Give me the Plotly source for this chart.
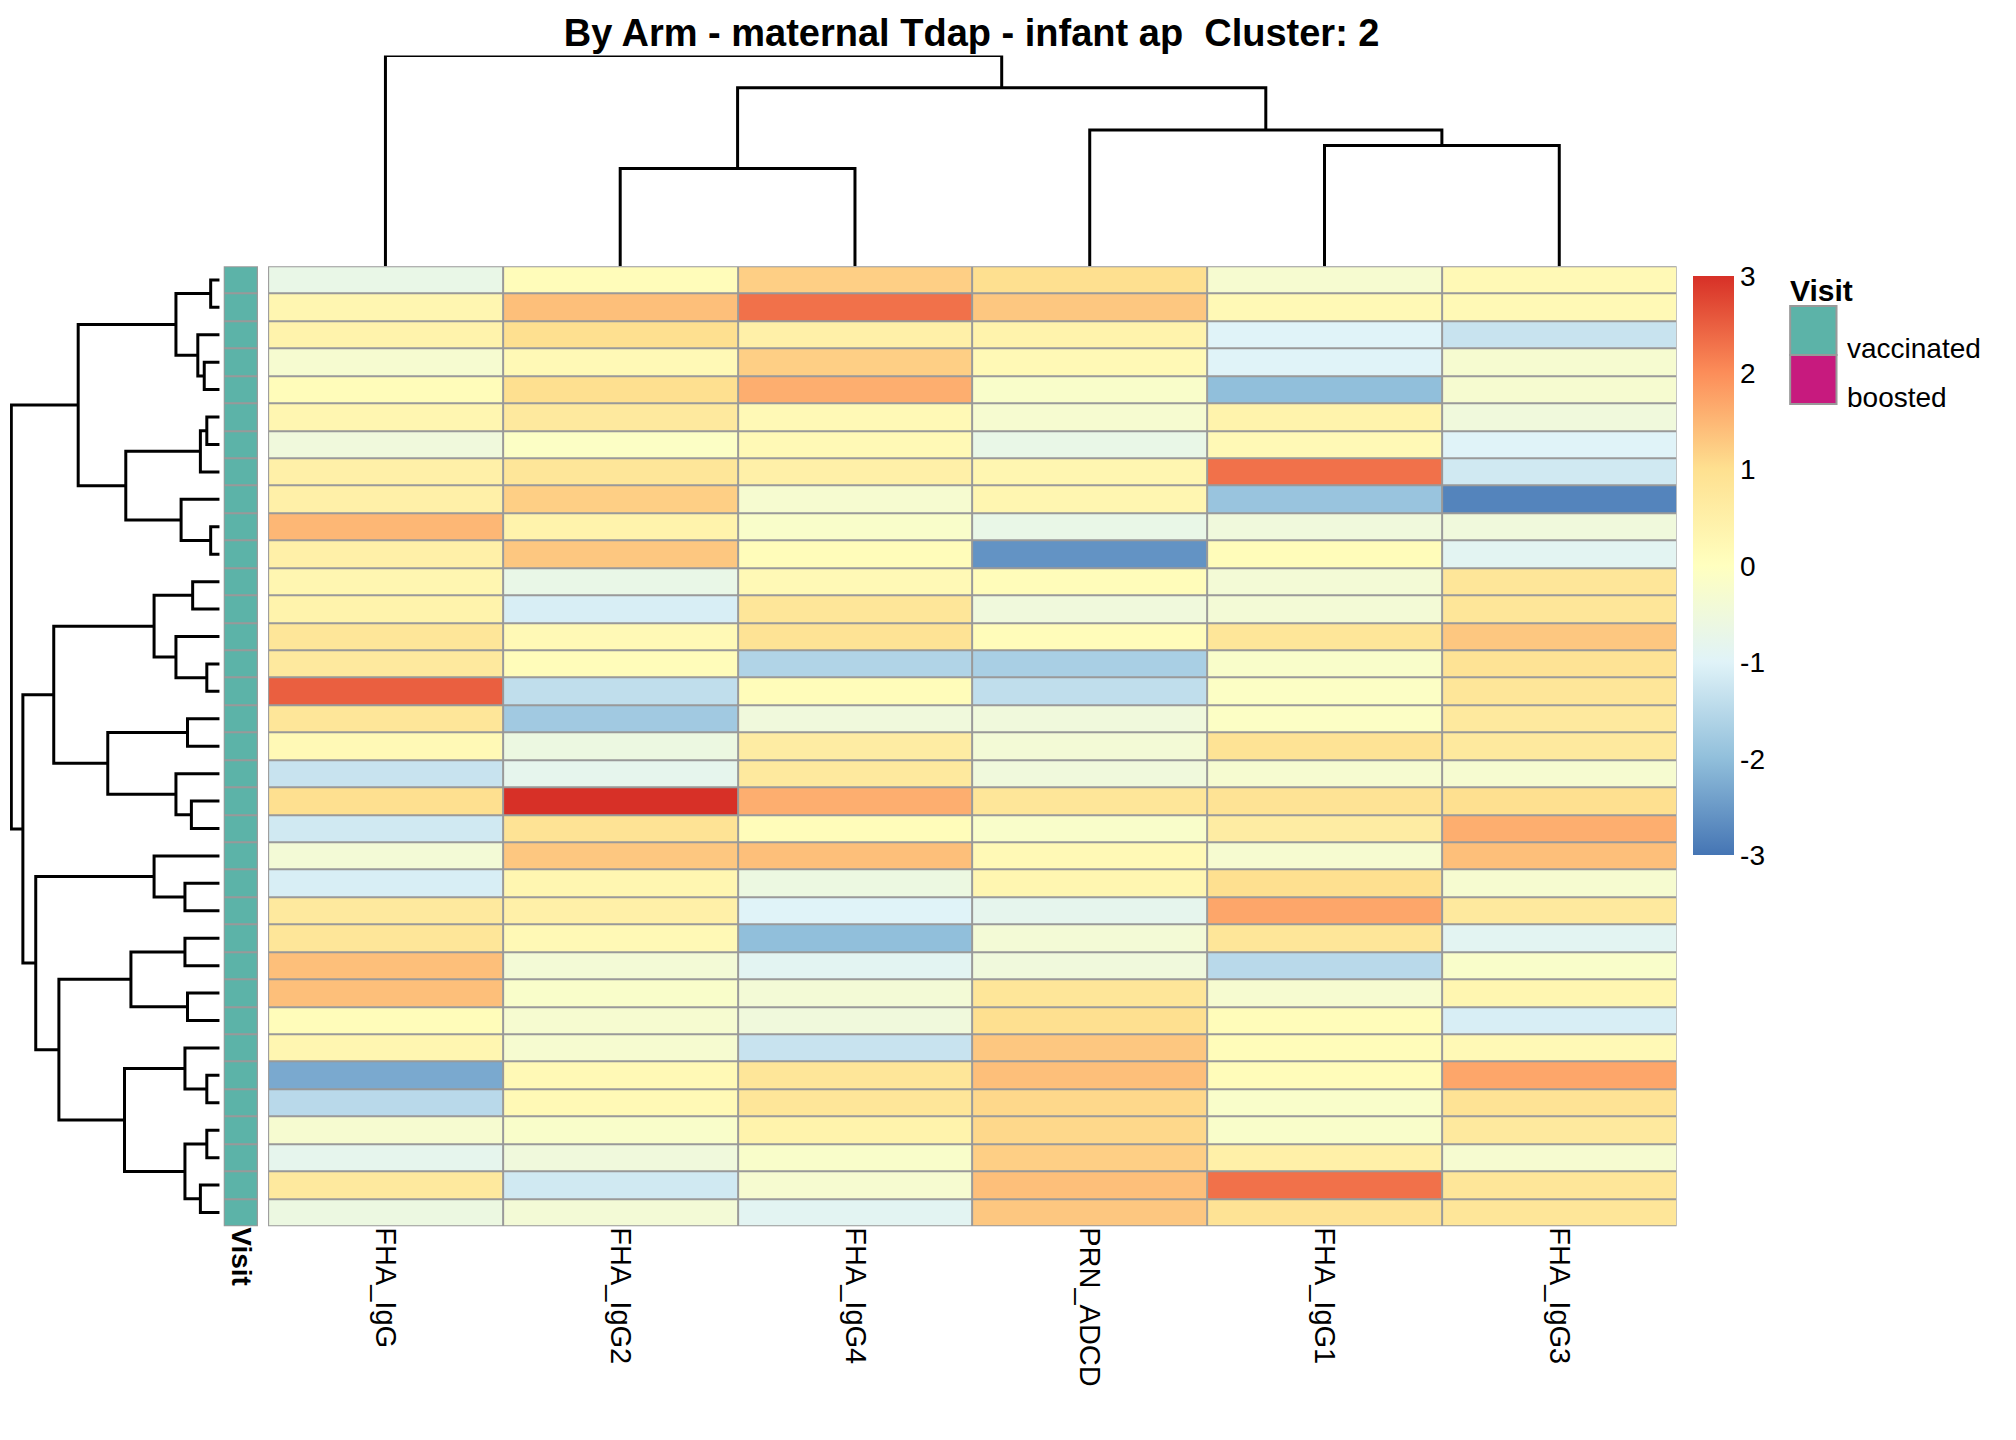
import plotly.graph_objects as go

columns = ["FHA_IgG", "FHA_IgG2", "FHA_IgG4", "PRN_ADCD", "FHA_IgG1", "FHA_IgG3"]
values = [
    [-0.7, 0.1, 1.2, 1.0, -0.3, 0.2],
    [0.3, 1.4, 2.3, 1.3, 0.2, 0.2],
    [0.4, 1.0, 0.5, 0.4, -1.0, -1.3],
    [-0.3, 0.2, 1.2, 0.2, -1.0, -0.3],
    [0.1, 1.0, 1.6, -0.2, -2.0, -0.3],
    [0.3, 0.7, 0.2, -0.3, 0.4, -0.5],
    [-0.5, -0.1, 0.2, -0.7, 0.2, -1.0],
    [0.5, 0.8, 0.5, 0.3, 2.3, -1.2],
    [0.5, 1.2, -0.3, 0.3, -1.9, -2.8],
    [1.5, 0.4, -0.2, -0.7, -0.5, -0.5],
    [0.5, 1.3, 0.1, -2.6, 0.1, -0.9],
    [0.3, -0.7, 0.2, 0.1, -0.4, 0.8],
    [0.4, -1.1, 0.8, -0.5, -0.4, 0.8],
    [0.8, 0.2, 0.9, 0.1, 0.8, 1.3],
    [0.7, 0.1, -1.6, -1.7, -0.2, 0.9],
    [2.5, -1.4, 0.1, -1.4, -0.1, 0.8],
    [0.8, -1.8, -0.5, -0.5, -0.1, 0.7],
    [0.2, -0.6, 0.6, -0.4, 0.9, 0.7],
    [-1.3, -0.8, 0.7, -0.5, -0.3, -0.3],
    [1.0, 3.0, 1.6, 0.8, 0.9, 1.0],
    [-1.2, 0.9, 0.1, -0.2, 0.6, 1.6],
    [-0.4, 1.3, 1.4, 0.2, -0.3, 1.4],
    [-1.1, 0.3, -0.6, 0.3, 1.0, -0.3],
    [0.7, 0.5, -1.0, -0.8, 1.7, 0.7],
    [0.8, 0.2, -2.0, -0.4, 0.8, -0.9],
    [1.4, -0.4, -0.9, -0.5, -1.5, -0.2],
    [1.4, -0.2, -0.4, 0.8, -0.3, 0.3],
    [0.1, -0.3, -0.5, 1.0, 0.1, -1.1],
    [0.3, -0.3, -1.3, 1.3, 0.1, 0.2],
    [-2.3, 0.2, 0.8, 1.4, 0.1, 1.7],
    [-1.5, 0.2, 0.8, 1.1, -0.2, 0.9],
    [-0.3, -0.2, 0.4, 1.1, -0.2, 0.7],
    [-0.8, -0.5, -0.2, 1.2, 0.5, -0.3],
    [0.7, -1.2, -0.3, 1.4, 2.3, 0.8],
    [-0.6, -0.4, -0.9, 1.3, 0.9, 0.8],
]
n_rows = len(values)
visit = ["vaccinated"] * n_rows
colorbar_ticks = [3, 2, 1, 0, -1, -2, -3]
colorbar_text = ["3", "2", "1", "0", "-1", "-2", "-3"]

# trees: (height, left, right); leaves are indices
row_tree = (162,
    (110,
        (34, (7, 0, 1), (17, 2, (12, 3, 4))),
        (73, (15, (10, 5, 6), 7), (30, 8, (7, 9, 10)))),
    (153,
        (129,
            (51, (21, 11, 12), (34, 13, (10, 14, 15))),
            (87, (25, 16, 17), (34, 18, (22, 19, 20)))),
        (143,
            (51, 21, (27, 22, 23)),
            (125,
                (69, (27, 24, 25), (25, 26, 27)),
                (74, (27, 28, (10, 29, 30)), (27, (10, 31, 32), (15, 33, 34)))))))
col_tree = (164, 0, (139, (76, 1, 2), (106, 3, (94, 4, 5))))

def dendro(tree):
    xs, ys = [], []
    def rec(node):
        if isinstance(node, int):
            return node, 0
        h, l, r = node
        pl, hl = rec(l)
        pr, hr = rec(r)
        xs.extend([pl, pl, pr, pr, None])
        ys.extend([hl, h, h, hr, None])
        return (pl + pr) / 2, h
    rec(tree)
    return xs, ys

colorscale = [[0, "#4575B4"], [1/6, "#91BFDB"], [2/6, "#E0F3F8"], [3/6, "#FFFFBF"],
              [4/6, "#FEE090"], [5/6, "#FC8D59"], [1, "#D73027"]]
visit_colors = {"vaccinated": "#5CB3A8", "boosted": "#C71A7E"}

HX0, HX1 = 0.129, 0.8277
HY0, HY1 = 0.154, 0.8207
AX0, AX1 = 0.107, 0.124
fig = go.Figure()

fig.add_trace(go.Heatmap(z=values, x=list(range(len(columns))), y=list(range(n_rows)),
    colorscale=colorscale, zmin=-3, zmax=3, xgap=2, ygap=2, xaxis="x", yaxis="y",
    hoverinfo="z",
    colorbar=dict(x=0.831, xanchor="left", y=HY1, yanchor="top", len=0.416, thickness=41,
                  outlinewidth=0, tickvals=colorbar_ticks, ticktext=colorbar_text, ticks="",
                  ticklen=8, tickfont=dict(size=28, family="Arial, Liberation Sans", color="black"))))

vz = [[0 if v == "vaccinated" else 1] for v in visit]
fig.add_trace(go.Heatmap(z=vz, x=[0], y=list(range(n_rows)), zmin=0, zmax=1,
    colorscale=[[0, visit_colors["vaccinated"]], [1, visit_colors["boosted"]]],
    showscale=False, xgap=2, ygap=2, xaxis="x2", yaxis="y"))

rx, ry = dendro(row_tree)
fig.add_trace(go.Scatter(x=ry, y=rx, mode="lines", line=dict(color="black", width=3),
                         xaxis="x3", yaxis="y", hoverinfo="skip", showlegend=False))
cx, cy = dendro(col_tree)
fig.add_trace(go.Scatter(x=cx, y=cy, mode="lines", line=dict(color="black", width=3),
                         xaxis="x", yaxis="y2", hoverinfo="skip", showlegend=False))

font = "Arial, Liberation Sans"
fig.update_layout(
    width=2016, height=1440, margin=dict(l=0, r=0, t=0, b=0),
    paper_bgcolor="white", plot_bgcolor="rgba(0,0,0,0)", showlegend=False,
    font=dict(family=font, color="black"),
    xaxis=dict(domain=[HX0, HX1], range=[-0.5, 5.5], tickvals=list(range(6)), ticktext=columns,
               tickangle=90, ticks="", showgrid=False, zeroline=False, tickfont=dict(size=29)),
    yaxis=dict(domain=[HY0, HY1], range=[n_rows - 0.5, -0.5], showticklabels=False,
               showgrid=False, zeroline=False),
    xaxis2=dict(domain=[AX0, AX1], range=[-0.5, 0.5], tickvals=[0], ticktext=["<b>Visit</b>"],
                tickangle=90, ticks="", showgrid=False, zeroline=False, tickfont=dict(size=28)),
    xaxis3=dict(domain=[0.001, 0.105], range=[163, 0], visible=False),
    yaxis2=dict(domain=[HY1, 0.967], range=[0, 164], visible=False),
    title=dict(text="<b>By Arm - maternal Tdap - infant ap  Cluster: 2</b>", x=0.478, xanchor="center",
               y=0.992, yanchor="top", font=dict(size=38, family=font)),
    shapes=[
        dict(type="rect", xref="paper", yref="paper", x0=HX0, x1=HX1, y0=HY0, y1=HY1,
             fillcolor="#999999", line_width=0, layer="below"),
        dict(type="rect", xref="paper", yref="paper", x0=AX0, x1=AX1, y0=HY0, y1=HY1,
             fillcolor="#999999", line_width=0, layer="below"),
        dict(type="rect", xref="paper", yref="paper", x0=0.884, x1=0.907, y0=0.759, y1=0.793,
             fillcolor=visit_colors["vaccinated"], line=dict(color="#999999", width=2)),
        dict(type="rect", xref="paper", yref="paper", x0=0.884, x1=0.907, y0=0.725, y1=0.759,
             fillcolor=visit_colors["boosted"], line=dict(color="#999999", width=2)),
    ],
    annotations=[
        dict(text="<b>Visit</b>", xref="paper", yref="paper", x=0.883, y=0.817, xanchor="left",
             showarrow=False, font=dict(size=30)),
        dict(text="vaccinated", xref="paper", yref="paper", x=0.911, y=0.776, xanchor="left",
             showarrow=False, font=dict(size=28)),
        dict(text="boosted", xref="paper", yref="paper", x=0.911, y=0.742, xanchor="left",
             showarrow=False, font=dict(size=28)),
    ],
)
fig.write_html("out.html")
